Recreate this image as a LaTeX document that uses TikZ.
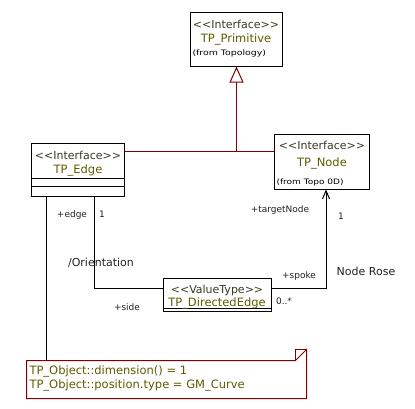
\documentclass[tikz,border=0pt]{standalone}
\usepackage{fontspec}
\setmainfont{DejaVu Sans}
\usetikzlibrary{arrows.meta}
\definecolor{dred}{HTML}{800000}
\definecolor{uolive}{HTML}{5C5C00}
\definecolor{usterc}{HTML}{3A3A22}
\definecolor{ulab}{HTML}{222222}
\begin{document}
\begin{tikzpicture}[x=1pt,y=-1pt,line width=1pt,
  box/.style={draw=black,fill=white,inner sep=0pt},
  ster/.style={anchor=base,inner sep=0pt,text=usterc,font=\fontsize{11}{13}\selectfont},
  cname/.style={anchor=base,inner sep=0pt,text=uolive,font=\fontsize{11.5}{13}\selectfont},
  from/.style={anchor=base west,inner sep=0pt,text=black,font=\fontsize{7.5}{9}\selectfont},
  lab/.style={anchor=base,inner sep=0pt,text=ulab,font=\fontsize{9}{11}\selectfont},
  biglab/.style={anchor=base,inner sep=0pt,text=ulab,font=\fontsize{11}{13}\selectfont},
  notetext/.style={anchor=base west,inner sep=0pt,text=uolive,font=\fontsize{11.5}{13}\selectfont},
  assoc/.style={draw=black},
  gen/.style={draw=dred}]
\useasboundingbox (0,0) rectangle (415,408);

% --- boxes
\node[box,minimum width=92pt,minimum height=54pt] (prim) at (236,39) {};
\node[box,minimum width=93pt,minimum height=53pt] (edge) at (77.5,169.5) {};
\node[box,minimum width=95pt,minimum height=55pt] (tnode) at (321.5,161.5) {};
\node[box,minimum width=108pt,minimum height=33pt] (dedge) at (217,294.5) {};
\node[inner sep=0pt,minimum width=279pt,minimum height=37pt] (note) at (166.5,379.5) {};

% compartments
\draw (edge.west |- 0,178) -- (edge.east |- 0,178);
\draw (edge.west |- 0,186) -- (edge.east |- 0,186);
\draw (dedge.west |- 0,308) -- (dedge.east |- 0,308);

% --- texts
\node[ster] (primS) at (236,28) {<\kern0pt<Interface>\kern0pt>};
\node[cname] (primN) at (236,42) {TP\_Primitive};
\node[from] (primF) at (192,55) {\scalebox{1.25}[1]{(from Topology)}};

\node[ster] (edgeS) at (78,159.5) {<\kern0pt<Interface>\kern0pt>};
\node[cname] (edgeN) at (78,173.5) {TP\_Edge};

\node[ster] (tnodeS) at (322,149.5) {<\kern0pt<Interface>\kern0pt>};
\node[cname] (tnodeN) at (322,166.5) {TP\_Node};
\node[from] (tnodeF) at (276,184) {\scalebox{1.2}[1]{(from Topo 0D)}};

\node[ster] (dedgeS) at (217,293.5) {<\kern0pt<ValueType>\kern0pt>};
\node[cname] (dedgeN) at (217,306) {TP\_DirectedEdge};

% --- generalization and association to TP_Node
\coordinate (gj) at (236.5,151);
\draw[gen] (edge.east |- gj) -- (tnode.west |- gj);
\draw[gen,-{Triangle[open,width=14pt,length=16pt,line width=1pt]}] (gj) -- (prim.south -| gj);

% --- association TP_Edge -- TP_DirectedEdge
\coordinate (ej) at (94,288);
\draw[assoc] (edge.south -| ej) |- (dedge.west |- ej);
% --- association TP_DirectedEdge -> TP_Node
\coordinate (nj) at (326,288);
\draw[assoc,-{Straight Barb[length=8pt,width=7pt,line width=1pt]}] (dedge.east |- nj) -| (tnode.south -| nj);

% --- association labels
\node[lab] (l1) at (72,217.5) {+edge};
\node[lab] (l2) at (102,217.5) {1};
\node[biglab] (l3) at (101,266) {/Orientation};
\node[lab] (l4) at (127,310) {+side};
\node[lab] (l5) at (299,278.5) {+spoke};
\node[lab] (l6) at (284,304) {0..*};
\node[biglab] (l7) at (366,275) {Node Rose};
\node[lab] (l8) at (280,212) {+targetNode};
\node[lab] (l9) at (341,219) {1};

% --- note
\coordinate (nx) at (46,0);
\draw[assoc] (edge.south -| nx) -- (note.north -| nx);
\draw[draw=dred] (note.north west) -- ([xshift=-11pt]note.north east) -- ([yshift=11pt]note.north east) -- (note.south east) -- (note.south west) -- cycle;
\draw[draw=dred] ([xshift=-11pt]note.north east) -- ([xshift=-11pt,yshift=11pt]note.north east) -- ([yshift=11pt]note.north east);
\node[notetext] (n1) at (29,374) {TP\_Object::dimension() = 1};
\node[notetext] (n2) at (29,388) {TP\_Object::position.type = GM\_Curve};
\end{tikzpicture}
\end{document}
